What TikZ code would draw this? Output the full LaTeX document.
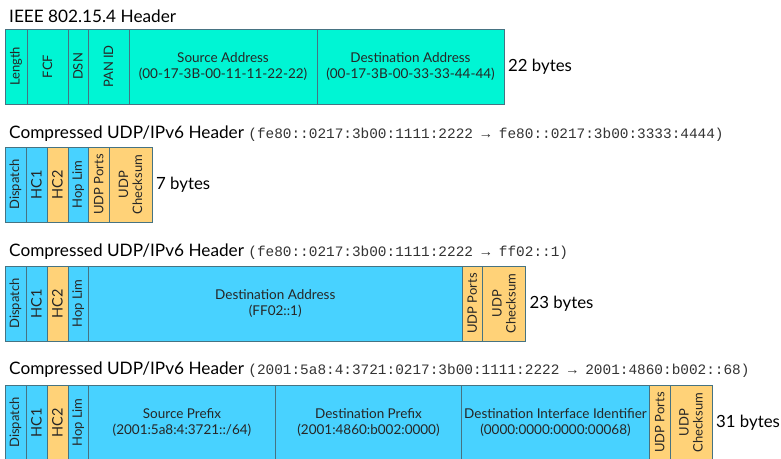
\documentclass[tikz,border=0pt]{standalone}
\usepackage{fontspec}
\setmainfont{Lato}
\setmonofont{Liberation Mono}
\usetikzlibrary{positioning}

\definecolor{macgreen}{RGB}{0,245,212}
\definecolor{ipblue}{RGB}{72,210,255}
\definecolor{udporange}{RGB}{255,210,120}
\definecolor{fieldline}{RGB}{70,115,130}

\tikzset{
  field/.style={draw=fieldline, line width=0.8pt, outer sep=0pt, inner sep=0pt,
    minimum height=75pt, minimum width=#1, anchor=west, align=center,
    text=black!85, font=\fontsize{13.5}{16}\selectfont},
  vlab/.style={label={[rotate=90, align=center, inner sep=0pt, text=black!85,
    font=\fontsize{13}{14}\selectfont]center:#1}},
  hclab/.style={label={[rotate=90, inner sep=0pt, text=black!85,
    font=\fontsize{14.5}{15}\selectfont]center:#1}},
  title/.style={anchor=west, inner sep=0pt, font=\fontsize{17.2}{19}\selectfont},
  bytes/.style={anchor=west, inner sep=0pt, font=\fontsize{16.8}{19}\selectfont}
}

\newcommand{\addr}[1]{{\ttfamily\fontsize{14.4}{16}\selectfont\color{black!80}#1}}

\begin{document}
\begin{tikzpicture}[x=1pt,y=-1pt]
  \useasboundingbox (0,0) rectangle (781,458);

  % IEEE 802.15.4 header
  \node[title] (t1) at (9,16) {IEEE 802.15.4 Header};
  \node[field=22pt, fill=macgreen, vlab=Length] (len) at (5,66.5) {};
  \node[field=41pt, fill=macgreen, right=0pt of len, vlab=FCF] (fcf) {};
  \node[field=20pt, fill=macgreen, right=0pt of fcf, vlab=DSN] (dsn) {};
  \node[field=41pt, fill=macgreen, right=0pt of dsn, vlab=PAN ID] (pan) {};
  \node[field=188pt, fill=macgreen, right=0pt of pan] (src) {Source Address\\(00-17-3B-00-11-11-22-22)};
  \node[field=187pt, fill=macgreen, right=0pt of src] (dst) {Destination Address\\(00-17-3B-00-33-33-44-44)};
  \node[bytes, right=4pt of dst] (b1) {22 bytes};

  % link-local to link-local
  \node[title] (t2) at (9,134) {Compressed UDP/IPv6 Header \addr{(fe80::0217:3b00:1111:2222 → fe80::0217:3b00:3333:4444)}};
  \node[field=21pt, fill=ipblue, vlab=Dispatch] (dsp2) at (5,184.5) {};
  \node[field=21pt, fill=ipblue, right=0pt of dsp2, hclab=HC1] (hca2) {};
  \node[field=21pt, fill=udporange, right=0pt of hca2, hclab=HC2] (hcb2) {};
  \node[field=20.5pt, fill=ipblue, right=0pt of hcb2, vlab=Hop Lim] (hop2) {};
  \node[field=20.5pt, fill=udporange, right=0pt of hop2, vlab=UDP Ports] (prt2) {};
  \node[field=43pt, fill=udporange, right=0pt of prt2, vlab={UDP\\Checksum}] (chk2) {};
  \node[bytes, right=4pt of chk2] (b2) {7 bytes};

  % link-local to multicast
  \node[title] (t3) at (9,252) {Compressed UDP/IPv6 Header \addr{(fe80::0217:3b00:1111:2222 → ff02::1)}};
  \node[field=21pt, fill=ipblue, vlab=Dispatch] (dsp3) at (5,303.5) {};
  \node[field=21pt, fill=ipblue, right=0pt of dsp3, hclab=HC1] (hca3) {};
  \node[field=21pt, fill=udporange, right=0pt of hca3, hclab=HC2] (hcb3) {};
  \node[field=20.5pt, fill=ipblue, right=0pt of hcb3, vlab=Hop Lim] (hop3) {};
  \node[field=373.5pt, fill=ipblue, right=0pt of hop3] (dst3) {Destination Address\\(FF02::1)};
  \node[field=20.5pt, fill=udporange, right=0pt of dst3, vlab=UDP Ports] (prt3) {};
  \node[field=43pt, fill=udporange, right=0pt of prt3, vlab={UDP\\Checksum}] (chk3) {};
  \node[bytes, right=4pt of chk3] (b3) {23 bytes};

  % global to global
  \node[title] (t4) at (9,370) {Compressed UDP/IPv6 Header \addr{(2001:5a8:4:3721:0217:3b00:1111:2222 → 2001:4860:b002::68)}};
  \node[field=21pt, fill=ipblue, vlab=Dispatch] (dsp4) at (5,422.5) {};
  \node[field=21pt, fill=ipblue, right=0pt of dsp4, hclab=HC1] (hca4) {};
  \node[field=21pt, fill=udporange, right=0pt of hca4, hclab=HC2] (hcb4) {};
  \node[field=20.5pt, fill=ipblue, right=0pt of hcb4, vlab=Hop Lim] (hop4) {};
  \node[field=187pt, fill=ipblue, right=0pt of hop4] (pfx4) {Source Prefix\\(2001:5a8:4:3721::/64)};
  \node[field=186pt, fill=ipblue, right=0pt of pfx4] (dpf4) {Destination Prefix\\(2001:4860:b002:0000)};
  \node[field=188pt, fill=ipblue, right=0pt of dpf4] (iid4) {Destination Interface Identifier\\(0000:0000:0000:00068)};
  \node[field=20.5pt, fill=udporange, right=0pt of iid4, vlab=UDP Ports] (prt4) {};
  \node[field=42pt, fill=udporange, right=0pt of prt4, vlab={UDP\\Checksum}] (chk4) {};
  \node[bytes, right=4pt of chk4] (b4) {31 bytes};
\end{tikzpicture}
\end{document}
